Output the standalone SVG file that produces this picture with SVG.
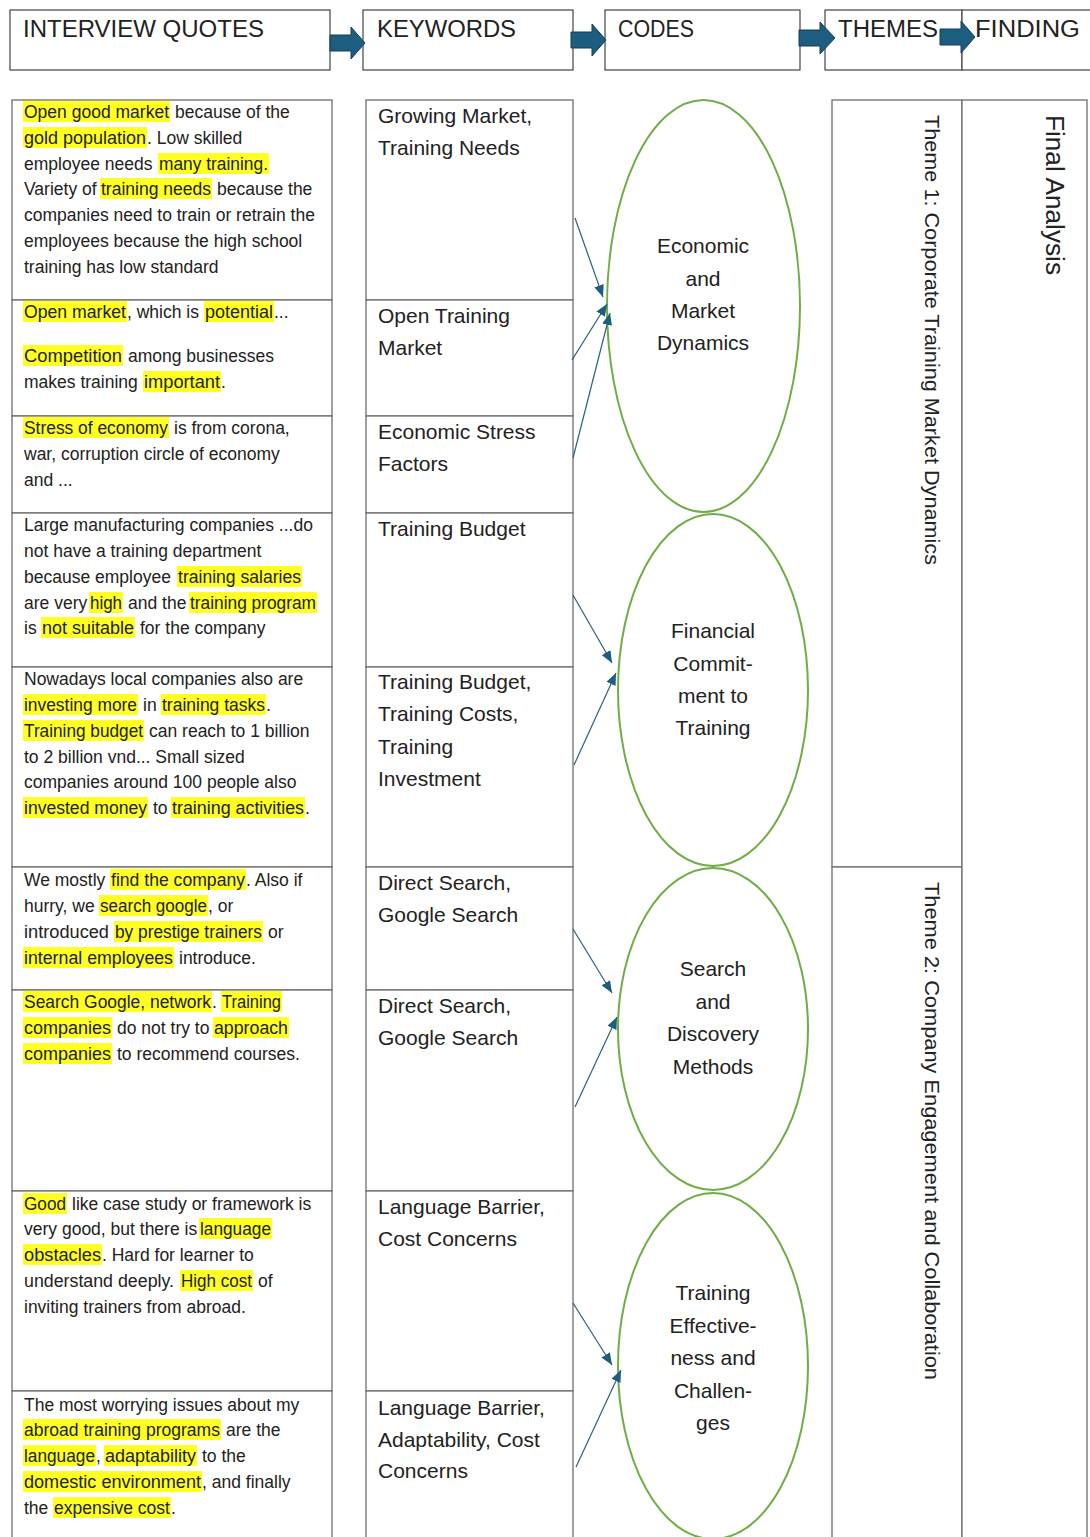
<svg xmlns="http://www.w3.org/2000/svg" width="1090" height="1537" viewBox="0 0 1090 1537">
<style>
.hdr{fill:#fff;stroke:#444;stroke-width:1.2}
.ht{font-family:"Liberation Sans",Arial,sans-serif;font-size:23px;fill:#222}
.cell{fill:#fff;stroke:#6e6e6e;stroke-width:1.3}
.q{font-family:"Liberation Sans",Arial,sans-serif;font-size:17.5px;fill:#222}
.hl{fill:#ffff24}
.kw{font-family:"Liberation Sans",Arial,sans-serif;font-size:21px;fill:#222}
.code{fill:none;stroke:#70ad47;stroke-width:2}
.ct{font-family:"Liberation Sans",Arial,sans-serif;font-size:21px;fill:#222;text-anchor:middle}
.th{font-family:"Liberation Sans",Arial,sans-serif;font-size:21px;fill:#222}
.fa{font-family:"Liberation Sans",Arial,sans-serif;font-size:25px;fill:#222}
.blk{fill:#1d5d7f;stroke:#163f57;stroke-width:1}
.con{stroke:#2f5f7d;stroke-width:1.2;fill:none;marker-end:url(#ah)}
</style>
<defs>
<marker id="ah" viewBox="0 0 12 10" refX="12" refY="5" markerWidth="12" markerHeight="10" markerUnits="userSpaceOnUse" orient="auto">
<path d="M0,0 L12,5 L0,10 Z" fill="#1d5d7f"/>
</marker>
</defs>
<rect width="1090" height="1537" fill="#fff"/>

<!-- header -->
<g id="h-quotes"><rect class="hdr" x="10" y="10" width="320" height="60"/><text class="ht" x="23" y="37" textLength="241" lengthAdjust="spacingAndGlyphs">INTERVIEW QUOTES</text></g>
<g id="h-keywords"><rect class="hdr" x="363" y="10" width="210" height="60"/><text class="ht" x="377" y="37" textLength="139" lengthAdjust="spacingAndGlyphs">KEYWORDS</text></g>
<g id="h-codes"><rect class="hdr" x="605" y="10" width="195" height="60"/><text class="ht" x="618" y="37" textLength="76" lengthAdjust="spacingAndGlyphs">CODES</text></g>
<g id="h-themes"><rect class="hdr" x="825" y="10" width="137" height="60"/><text class="ht" x="838" y="37" textLength="100" lengthAdjust="spacingAndGlyphs">THEMES</text></g>
<g id="h-finding"><rect class="hdr" x="962" y="10" width="140" height="60"/><text class="ht" x="975" y="37" textLength="105" lengthAdjust="spacingAndGlyphs">FINDING</text></g>
<g id="h-arrows">
<path class="blk" d="M330,35 L351,35 L351,27 L365,43 L351,59 L351,51 L330,51 Z"/>
<path class="blk" d="M571,32 L592,32 L592,24 L606,40 L592,56 L592,48 L571,48 Z"/>
<path class="blk" d="M799,30 L820,30 L820,22 L835,38 L820,54 L820,46 L799,46 Z"/>
<path class="blk" d="M940,29 L961,29 L961,21 L975,37 L961,53 L961,45 L940,45 Z"/>
</g>

<!-- quotes column -->
<g id="q1"><rect class="cell" x="12" y="100" width="320" height="200"/>
<rect class="hl" x="23" y="101" width="147" height="21"/><rect class="hl" x="23" y="127" width="124" height="21"/><rect class="hl" x="158" y="153" width="111" height="21"/><rect class="hl" x="100" y="178" width="112" height="21"/>
<text class="q"><tspan x="24" y="118" textLength="145" lengthAdjust="spacingAndGlyphs">Open good market</tspan><tspan x="175" y="118">because of the</tspan>
<tspan x="24" y="144" textLength="122" lengthAdjust="spacingAndGlyphs">gold population</tspan><tspan x="147" y="144">. Low skilled</tspan>
<tspan x="24" y="170">employee needs</tspan><tspan x="159" y="170" textLength="109" lengthAdjust="spacingAndGlyphs">many training.</tspan>
<tspan x="24" y="195">Variety of</tspan><tspan x="101" y="195" textLength="110" lengthAdjust="spacingAndGlyphs">training needs</tspan><tspan x="217" y="195">because the</tspan>
<tspan x="24" y="221">companies need to train or retrain the</tspan>
<tspan x="24" y="247">employees because the high school</tspan>
<tspan x="24" y="273">training has low standard</tspan></text></g>

<g id="q2"><rect class="cell" x="12" y="300" width="320" height="116"/>
<rect class="hl" x="23" y="301" width="104" height="21"/><rect class="hl" x="204" y="301" width="70" height="21"/><rect class="hl" x="23" y="345" width="100" height="21"/><rect class="hl" x="143" y="371" width="78" height="21"/>
<text class="q"><tspan x="24" y="318" textLength="102" lengthAdjust="spacingAndGlyphs">Open market</tspan><tspan x="127" y="318">, which is</tspan><tspan x="205" y="318" textLength="68" lengthAdjust="spacingAndGlyphs">potential</tspan><tspan x="274" y="318">...</tspan>
<tspan x="24" y="362" textLength="98" lengthAdjust="spacingAndGlyphs">Competition</tspan><tspan x="128" y="362">among businesses</tspan>
<tspan x="24" y="388">makes training</tspan><tspan x="144" y="388" textLength="76" lengthAdjust="spacingAndGlyphs">important</tspan><tspan x="221" y="388">.</tspan></text></g>

<g id="q3"><rect class="cell" x="12" y="416" width="320" height="97"/>
<rect class="hl" x="23" y="417" width="146" height="21"/>
<text class="q"><tspan x="24" y="434" textLength="144" lengthAdjust="spacingAndGlyphs">Stress of economy</tspan><tspan x="174" y="434">is from corona,</tspan>
<tspan x="24" y="460">war, corruption circle of economy</tspan>
<tspan x="24" y="486">and ...</tspan></text></g>

<g id="q4"><rect class="cell" x="12" y="513" width="320" height="154"/>
<rect class="hl" x="177" y="566" width="125" height="21"/><rect class="hl" x="89" y="592" width="34" height="21"/><rect class="hl" x="189" y="592" width="128" height="21"/><rect class="hl" x="41" y="617" width="94" height="21"/>
<text class="q"><tspan x="24" y="531">Large manufacturing companies ...do</tspan>
<tspan x="24" y="557">not have a training department</tspan>
<tspan x="24" y="583">because employee</tspan><tspan x="178" y="583" textLength="123" lengthAdjust="spacingAndGlyphs">training salaries</tspan>
<tspan x="24" y="609">are very</tspan><tspan x="90" y="609" textLength="32" lengthAdjust="spacingAndGlyphs">high</tspan><tspan x="128" y="609">and the</tspan><tspan x="190" y="609" textLength="126" lengthAdjust="spacingAndGlyphs">training program</tspan>
<tspan x="24" y="634">is</tspan><tspan x="42" y="634" textLength="92" lengthAdjust="spacingAndGlyphs">not suitable</tspan><tspan x="140" y="634">for the company</tspan></text></g>

<g id="q5"><rect class="cell" x="12" y="667" width="320" height="200"/>
<rect class="hl" x="23" y="694" width="115" height="21"/><rect class="hl" x="161" y="694" width="105" height="21"/><rect class="hl" x="23" y="720" width="121" height="21"/><rect class="hl" x="23" y="797" width="125" height="21"/><rect class="hl" x="171" y="797" width="134" height="21"/>
<text class="q"><tspan x="24" y="685">Nowadays local companies also are</tspan>
<tspan x="24" y="711" textLength="113" lengthAdjust="spacingAndGlyphs">investing more</tspan><tspan x="143" y="711">in</tspan><tspan x="162" y="711" textLength="103" lengthAdjust="spacingAndGlyphs">training tasks</tspan><tspan x="266" y="711">.</tspan>
<tspan x="24" y="737" textLength="119" lengthAdjust="spacingAndGlyphs">Training budget</tspan><tspan x="149" y="737">can reach to 1 billion</tspan>
<tspan x="24" y="763">to 2 billion vnd... Small sized</tspan>
<tspan x="24" y="788">companies around 100 people also</tspan>
<tspan x="24" y="814" textLength="123" lengthAdjust="spacingAndGlyphs">invested money</tspan><tspan x="153" y="814">to</tspan><tspan x="172" y="814" textLength="132" lengthAdjust="spacingAndGlyphs">training activities</tspan><tspan x="305" y="814">.</tspan></text></g>

<g id="q6"><rect class="cell" x="12" y="867" width="320" height="123"/>
<rect class="hl" x="110" y="869" width="136" height="21"/><rect class="hl" x="99" y="895" width="109" height="21"/><rect class="hl" x="114" y="921" width="149" height="21"/><rect class="hl" x="23" y="947" width="151" height="21"/>
<text class="q"><tspan x="24" y="886">We mostly</tspan><tspan x="111" y="886" textLength="134" lengthAdjust="spacingAndGlyphs">find the company</tspan><tspan x="246" y="886">. Also if</tspan>
<tspan x="24" y="912">hurry, we</tspan><tspan x="100" y="912" textLength="107" lengthAdjust="spacingAndGlyphs">search google</tspan><tspan x="208" y="912">, or</tspan>
<tspan x="24" y="938" textLength="85" lengthAdjust="spacingAndGlyphs">introduced</tspan><tspan x="115" y="938" textLength="147" lengthAdjust="spacingAndGlyphs">by prestige trainers</tspan><tspan x="268" y="938">or</tspan>
<tspan x="24" y="964" textLength="149" lengthAdjust="spacingAndGlyphs">internal employees</tspan><tspan x="179" y="964">introduce.</tspan></text></g>

<g id="q7"><rect class="cell" x="12" y="990" width="320" height="201"/>
<rect class="hl" x="23" y="991" width="189" height="21"/><rect class="hl" x="221" y="991" width="61" height="21"/><rect class="hl" x="23" y="1017" width="89" height="21"/><rect class="hl" x="213" y="1017" width="76" height="21"/><rect class="hl" x="23" y="1043" width="89" height="21"/>
<text class="q"><tspan x="24" y="1008" textLength="187" lengthAdjust="spacingAndGlyphs">Search Google, network</tspan><tspan x="212" y="1008">.</tspan><tspan x="222" y="1008" textLength="59" lengthAdjust="spacingAndGlyphs">Training</tspan>
<tspan x="24" y="1034" textLength="87" lengthAdjust="spacingAndGlyphs">companies</tspan><tspan x="117" y="1034">do not try to</tspan><tspan x="214" y="1034" textLength="74" lengthAdjust="spacingAndGlyphs">approach</tspan>
<tspan x="24" y="1060" textLength="87" lengthAdjust="spacingAndGlyphs">companies</tspan><tspan x="117" y="1060">to recommend courses.</tspan></text></g>

<g id="q8"><rect class="cell" x="12" y="1191" width="320" height="200"/>
<rect class="hl" x="23" y="1193" width="44" height="21"/><rect class="hl" x="199" y="1218" width="73" height="21"/><rect class="hl" x="23" y="1244" width="79" height="21"/><rect class="hl" x="180" y="1270" width="73" height="21"/>
<text class="q"><tspan x="24" y="1210" textLength="42" lengthAdjust="spacingAndGlyphs">Good</tspan><tspan x="72" y="1210">like case study or framework is</tspan>
<tspan x="24" y="1235">very good, but there is</tspan><tspan x="200" y="1235" textLength="71" lengthAdjust="spacingAndGlyphs">language</tspan>
<tspan x="24" y="1261" textLength="77" lengthAdjust="spacingAndGlyphs">obstacles</tspan><tspan x="102" y="1261">. Hard for learner to</tspan>
<tspan x="24" y="1287" textLength="150" lengthAdjust="spacingAndGlyphs">understand deeply.</tspan><tspan x="181" y="1287" textLength="71" lengthAdjust="spacingAndGlyphs">High cost</tspan><tspan x="258" y="1287">of</tspan>
<tspan x="24" y="1313">inviting trainers from abroad.</tspan></text></g>

<g id="q9"><rect class="cell" x="12" y="1391" width="320" height="160"/>
<rect class="hl" x="23" y="1419" width="198" height="21"/><rect class="hl" x="23" y="1445" width="73" height="21"/><rect class="hl" x="104" y="1445" width="93" height="21"/><rect class="hl" x="23" y="1471" width="179" height="21"/><rect class="hl" x="53" y="1497" width="118" height="21"/>
<text class="q"><tspan x="24" y="1411">The most worrying issues about my</tspan>
<tspan x="24" y="1436" textLength="196" lengthAdjust="spacingAndGlyphs">abroad training programs</tspan><tspan x="226" y="1436">are the</tspan>
<tspan x="24" y="1462" textLength="71" lengthAdjust="spacingAndGlyphs">language</tspan><tspan x="96" y="1462">,</tspan><tspan x="105" y="1462" textLength="91" lengthAdjust="spacingAndGlyphs">adaptability</tspan><tspan x="202" y="1462">to the</tspan>
<tspan x="24" y="1488" textLength="177" lengthAdjust="spacingAndGlyphs">domestic environment</tspan><tspan x="202" y="1488">, and finally</tspan>
<tspan x="24" y="1514">the</tspan><tspan x="54" y="1514" textLength="116" lengthAdjust="spacingAndGlyphs">expensive cost</tspan><tspan x="171" y="1514">.</tspan></text></g>

<!-- keywords column -->
<g id="k1"><rect class="cell" x="366" y="100" width="207" height="200"/><text class="kw"><tspan x="378" y="123">Growing Market,</tspan><tspan x="378" y="155">Training Needs</tspan></text></g>
<g id="k2"><rect class="cell" x="366" y="300" width="207" height="116"/><text class="kw"><tspan x="378" y="323">Open Training</tspan><tspan x="378" y="355">Market</tspan></text></g>
<g id="k3"><rect class="cell" x="366" y="416" width="207" height="97"/><text class="kw"><tspan x="378" y="439">Economic Stress</tspan><tspan x="378" y="471">Factors</tspan></text></g>
<g id="k4"><rect class="cell" x="366" y="513" width="207" height="154"/><text class="kw"><tspan x="378" y="536">Training Budget</tspan></text></g>
<g id="k5"><rect class="cell" x="366" y="667" width="207" height="200"/><text class="kw"><tspan x="378" y="689">Training Budget,</tspan><tspan x="378" y="721">Training Costs,</tspan><tspan x="378" y="754">Training</tspan><tspan x="378" y="786">Investment</tspan></text></g>
<g id="k6"><rect class="cell" x="366" y="867" width="207" height="123"/><text class="kw"><tspan x="378" y="890">Direct Search,</tspan><tspan x="378" y="922">Google Search</tspan></text></g>
<g id="k7"><rect class="cell" x="366" y="990" width="207" height="201"/><text class="kw"><tspan x="378" y="1013">Direct Search,</tspan><tspan x="378" y="1045">Google Search</tspan></text></g>
<g id="k8"><rect class="cell" x="366" y="1191" width="207" height="200"/><text class="kw"><tspan x="378" y="1214">Language Barrier,</tspan><tspan x="378" y="1246">Cost Concerns</tspan></text></g>
<g id="k9"><rect class="cell" x="366" y="1391" width="207" height="160"/><text class="kw"><tspan x="378" y="1415">Language Barrier,</tspan><tspan x="378" y="1447">Adaptability, Cost</tspan><tspan x="378" y="1478">Concerns</tspan></text></g>

<!-- codes -->
<g id="c1"><ellipse class="code" cx="703.5" cy="306" rx="96.5" ry="206"/><text class="ct"><tspan x="703" y="253">Economic</tspan><tspan x="703" y="286">and</tspan><tspan x="703" y="318">Market</tspan><tspan x="703" y="350">Dynamics</tspan></text></g>
<g id="c2"><ellipse class="code" cx="713" cy="690" rx="95" ry="176"/><text class="ct"><tspan x="713" y="638">Financial</tspan><tspan x="713" y="671">Commit-</tspan><tspan x="713" y="703">ment to</tspan><tspan x="713" y="735">Training</tspan></text></g>
<g id="c3"><ellipse class="code" cx="713" cy="1029" rx="95" ry="161"/><text class="ct"><tspan x="713" y="976">Search</tspan><tspan x="713" y="1009">and</tspan><tspan x="713" y="1041">Discovery</tspan><tspan x="713" y="1074">Methods</tspan></text></g>
<g id="c4"><ellipse class="code" cx="713" cy="1366" rx="95" ry="173"/><text class="ct"><tspan x="713" y="1300">Training</tspan><tspan x="713" y="1333">Effective-</tspan><tspan x="713" y="1365">ness and</tspan><tspan x="713" y="1398">Challen-</tspan><tspan x="713" y="1430">ges</tspan></text></g>

<!-- themes -->
<g id="t1"><rect class="cell" x="832" y="100" width="130" height="767"/><text class="th" transform="translate(925,115) rotate(90)" textLength="450" lengthAdjust="spacingAndGlyphs">Theme 1: Corporate Training Market Dynamics</text></g>
<g id="t2"><rect class="cell" x="832" y="867" width="130" height="690"/><text class="th" transform="translate(925,882) rotate(90)" textLength="498" lengthAdjust="spacingAndGlyphs">Theme 2: Company Engagement and Collaboration</text></g>

<!-- finding -->
<g id="f1"><rect class="cell" x="962" y="100" width="125" height="1457"/><text class="fa" transform="translate(1046,115) rotate(90)" textLength="160" lengthAdjust="spacingAndGlyphs">Final Analysis</text></g>

<!-- connectors -->
<g id="connectors">
<line class="con" x1="575" y1="218" x2="603" y2="297"/>
<line class="con" x1="572" y1="360" x2="607" y2="304"/>
<line class="con" x1="573" y1="458" x2="610" y2="313"/>
<line class="con" x1="573" y1="595" x2="612" y2="663"/>
<line class="con" x1="574" y1="765" x2="616" y2="673"/>
<line class="con" x1="573" y1="929" x2="612" y2="993"/>
<line class="con" x1="575" y1="1107" x2="617" y2="1017"/>
<line class="con" x1="573" y1="1303" x2="612" y2="1365"/>
<line class="con" x1="576" y1="1467" x2="621" y2="1370"/>
</g>
</svg>
